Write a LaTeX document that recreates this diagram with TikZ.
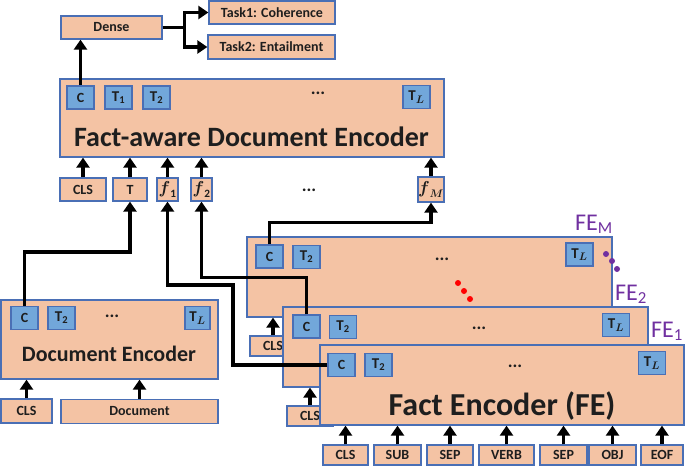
\documentclass[tikz,border=0pt]{standalone}
\usepackage{fontspec}
\setmainfont{Carlito}
\usepackage{amsmath}
\usetikzlibrary{arrows.meta}
\definecolor{peach}{HTML}{F4C3A4}
\definecolor{bord}{HTML}{4A6FB5}
\definecolor{tokb}{HTML}{72A7DA}
\definecolor{purp}{HTML}{7030A0}
\definecolor{txt}{HTML}{1E1E1E}
\begin{document}
\begin{tikzpicture}[x=1pt,y=-1pt,
 box/.style={draw=bord,fill=peach,line width=1.3pt,inner sep=0pt,text=txt,font=\bfseries\fontsize{14}{14}\selectfont},
 tok/.style={draw=bord,fill=tokb,line width=1.3pt,inner sep=0pt,minimum width=27pt,minimum height=23pt,text=txt,font=\bfseries\fontsize{14}{14}\selectfont},
 mtok/.style={tok,font=\fontsize{15}{15}\selectfont},
 dots/.style={inner sep=0pt,text=txt,font=\bfseries\fontsize{18}{18}\selectfont},
 felabel/.style={inner sep=0pt,text=purp,font=\fontsize{24}{24}\selectfont,anchor=base west},
 arr/.style={line width=3.5pt,-{Triangle[length=10pt,width=13pt]},draw=black},
 pdot/.style={fill=purp,draw=none},
 rdot/.style={fill=red,draw=none},
]
\useasboundingbox (0,0) rectangle (685,467);

% ---- top: dense and tasks
\node[box,minimum width=101pt,minimum height=23pt] (dense) at (111.5,27.5) {Dense};
\node[box,minimum width=126pt,minimum height=23pt] (task1) at (272,12.5) {Task1: Coherence};
\node[box,minimum width=127pt,minimum height=24pt] (task2) at (271.5,47) {Task2: Entailment};

% ---- fact-aware document encoder
\node[box,minimum width=384pt,minimum height=78pt] (fad) at (252,118) {};
\node[inner sep=0pt,text=txt,font=\bfseries\fontsize{28}{28}\selectfont] (fadt) at (251.5,137) {Fact-aware Document Encoder};
\node[tok] (fC) at (80.5,97.5) {C};
\node[mtok] (fT1) at (118.5,97.5) {$\mathbf{T}_{\mathbf{1}}$};
\node[mtok] (fT2) at (156.5,97.5) {$\mathbf{T}_{\mathbf{2}}$};
\node[dots] (fdots) at (318,93) {...};
\node[mtok] (fTL) at (416.5,97) {$\mathbf{T}_{\boldsymbol{L}}$};

\node[box,minimum width=46pt,minimum height=23pt] (iCLS) at (83,189.5) {CLS};
\node[box,minimum width=34pt,minimum height=23pt] (iT) at (130,189.5) {T};
\node[box,minimum width=21pt,minimum height=23pt,font=\fontsize{16}{16}\selectfont] (if1) at (167.5,189.5) {$\boldsymbol{f}_{\mathbf{1}}$};
\node[box,minimum width=21pt,minimum height=23pt,font=\fontsize{16}{16}\selectfont] (if2) at (201.5,189.5) {$\boldsymbol{f}_{\mathbf{2}}$};
\node[dots] (idots) at (309,190) {...};
\node[box,minimum width=22pt,minimum height=25pt,font=\fontsize{16}{16}\selectfont] (ifM) at (431,189.5) {$\boldsymbol{f}_{\boldsymbol{M}}$};

\draw[arr] (fC.north) -- (fC.north |- dense.south);
\draw[arr] (dense.east) -- ++(22,0) |- (task1.west);
\draw[arr] (dense.east) -- ++(22,0) |- (task2.west);
\foreach \n in {iCLS,iT,if1,if2,ifM}
  \draw[arr] (\n.north) -- (\n.north |- fad.south);

% ---- document encoder
\node[box,minimum width=217pt,minimum height=79pt] (denc) at (109.5,339.5) {};
\node[inner sep=0pt,text=txt,font=\bfseries\fontsize{22}{22}\selectfont] (denct) at (109,354) {Document Encoder};
\node[tok] (dC) at (24.5,318) {C};
\node[mtok] (dT2) at (61.5,318) {$\mathbf{T}_{\mathbf{2}}$};
\node[dots] (ddots) at (112,316) {...};
\node[mtok,minimum width=25pt] (dTL) at (197.5,318) {$\mathbf{T}_{\boldsymbol{L}}$};
\node[box,minimum width=51pt,minimum height=24pt] (dCLS) at (26.5,411) {CLS};
\node[box,minimum width=157pt,minimum height=24pt] (dDoc) at (139.5,411.5) {Document};
\draw[arr] (dCLS.north) -- (dCLS.north |- denc.south);
\draw[arr] (dDoc.north) -- (dDoc.north |- denc.south);

% ---- fact encoder M (back)
\node[box,minimum width=46pt,minimum height=20pt] (mCLS) at (273,346) {CLS};
\node[box,minimum width=365pt,minimum height=80pt] (feM) at (429.5,277) {};
\draw[arr] (mCLS.north) -- (mCLS.north |- feM.south);
\node[tok] (mC) at (269.5,256.5) {C};
\node[mtok] (mT2) at (306.5,257) {$\mathbf{T}_{\mathbf{2}}$};
\node[dots] (mdots) at (442,259) {...};
\node[mtok] (mTL) at (579.5,254.5) {$\mathbf{T}_{\boldsymbol{L}}$};

% ---- fact encoder 2
\node[box,minimum width=46pt,minimum height=20pt] (eCLS) at (310,416) {CLS};
\node[box,minimum width=365pt,minimum height=80pt] (fe2) at (465.5,347) {};
\draw[arr] (eCLS.north) -- (eCLS.north |- fe2.south);
\node[tok] (eC) at (306.5,326.5) {C};
\node[mtok] (eT2) at (343,327) {$\mathbf{T}_{\mathbf{2}}$};
\node[dots] (edots) at (479,328) {...};
\node[mtok] (eTL) at (616,325) {$\mathbf{T}_{\boldsymbol{L}}$};

% ---- fact encoder 1 (front)
\node[box,minimum width=364pt,minimum height=80pt] (fe1) at (502,385) {};
\node[inner sep=0pt,text=txt,font=\bfseries\fontsize{32}{32}\selectfont] (fe1t) at (502,406) {Fact Encoder (FE)};
\node[tok] (oC) at (341.5,365) {C};
\node[mtok] (oT2) at (378.5,365) {$\mathbf{T}_{\mathbf{2}}$};
\node[dots] (odots) at (515,366) {...};
\node[mtok] (oTL) at (652,363) {$\mathbf{T}_{\boldsymbol{L}}$};

\node[box,minimum width=45pt,minimum height=20pt] (bCLS) at (345.5,455) {CLS};
\node[box,minimum width=47pt,minimum height=20pt] (bSUB) at (397.5,455) {SUB};
\node[box,minimum width=46pt,minimum height=20pt] (bSEP) at (450,455) {SEP};
\node[box,minimum width=55pt,minimum height=20pt] (bVERB) at (506.5,455) {VERB};
\node[box,minimum width=47pt,minimum height=20pt] (bSEPb) at (563.5,455) {SEP};
\node[box,minimum width=47pt,minimum height=20pt] (bOBJ) at (612.5,455) {OBJ};
\node[box,minimum width=42pt,minimum height=20pt] (bEOF) at (662,455) {EOF};
\foreach \n in {bCLS,bSUB,bSEP,bVERB,bSEPb,bOBJ,bEOF}
  \draw[arr] (\n.north) -- (\n.north |- fe1.south);

% ---- labels and dots
\node[felabel] (lM) at (575,230) {FE\textsubscript{M}};
\node[felabel] (l2) at (615,300) {FE\textsubscript{2}};
\node[felabel] (l1) at (651,337) {FE\textsubscript{1}};
\fill[pdot] (606,254) circle (3pt) (612,261) circle (3pt) (617,269) circle (3pt);
\fill[rdot] (458,283) circle (3pt) (464,291) circle (3pt) (470,299) circle (3pt);

% ---- connectors
\draw[arr] (dC.north) -- ++(0,-54) -| (iT.south);
\draw[arr] (mC.north) -- ++(0,-22) -| (ifM.south);
\draw[arr] (eC.north) -- ++(0,-37) -| (if2.south);
\coordinate (b1) at (233,285);
\draw[arr] (oC.west) -| (b1) -| (if1.south);
\end{tikzpicture}
\end{document}
